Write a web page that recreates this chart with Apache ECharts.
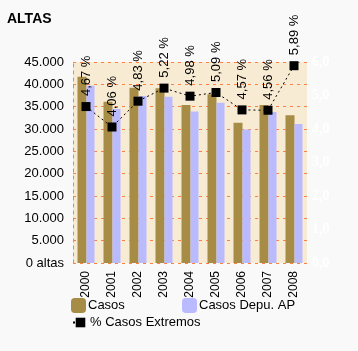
<!DOCTYPE html>
<html><head><meta charset="utf-8">
<script src="https://cdn.jsdelivr.net/npm/echarts@6/dist/echarts.min.js"></script>
<style>html,body{margin:0;padding:0;background:#f9f9f9}#c{width:358px;height:351px}</style>
</head><body><div id="c"></div>
<script>
const categories = ['2000','2001','2002','2003','2004','2005','2006','2007','2008'];
const casos = [41700, 36100, 39250, 39100, 35400, 37800, 31400, 35400, 33100];
const casosDepu = [39700, 34500, 37400, 37200, 33900, 35900, 29900, 33800, 31100];
const pctExtremos = [4.67, 4.06, 4.83, 5.22, 4.98, 5.09, 4.57, 4.56, 5.89];
const seriesNames = ['Casos', 'Casos Depu. AP', '% Casos Extremos'];

const NF = '"Liberation Sans Narrow","Liberation Sans",Arial,sans-serif';
const chart = echarts.init(document.getElementById('c'), null, {renderer: 'canvas'});
const fmtThousands = v => v === 0 ? '0 altas' : String(v).replace(/\B(?=(\d{3})+(?!\d))/g, '.');
chart.setOption({
  backgroundColor: '#f9f9f9',
  animation: false,
  title: {text: 'ALTAS', left: 7, top: 12, padding: 0,
    textStyle: {fontFamily: '"Liberation Sans",Arial,sans-serif', fontWeight: 'bold', fontSize: 14, color: '#000'}},
  grid: {left: 73, top: 62, width: 234, height: 201, show: true, backgroundColor: '#f8ebd4', borderWidth: 0},
  legend: [
    {data: [seriesNames[0]], left: 71, top: 298, padding: 0, itemWidth: 15, itemHeight: 15,
      textStyle: {fontFamily: NF, fontSize: 13, color: '#000', padding: [0,0,0,-3]}},
    {data: [seriesNames[1]], left: 182, top: 298, padding: 0, itemWidth: 15, itemHeight: 15,
      textStyle: {fontFamily: NF, fontSize: 13, color: '#000', padding: [0,0,0,-3]}},
    {data: [seriesNames[2]], left: 72, top: 316, padding: 0, itemWidth: 15, itemHeight: 12,
      textStyle: {fontFamily: NF, fontSize: 13, color: '#000', padding: [0,0,0,-3]}}
  ],
  xAxis: {type: 'category', data: categories,
    axisLine: {show: false}, axisTick: {show: false},
    axisLabel: {rotate: 90, margin: 8, fontFamily: NF, fontSize: 12, color: '#000'}},
  yAxis: [
    {type: 'value', min: 0, max: 45000, interval: 5000,
      axisLine: {show: true, lineStyle: {color: '#ff8040', type: [3,4]}},
      axisTick: {show: false},
      splitLine: {show: true, lineStyle: {color: '#ff8040', type: [3,4]}},
      axisLabel: {margin: 9, fontFamily: NF, fontSize: 13, color: '#000', formatter: fmtThousands}},
    {type: 'value', min: 0, max: 6, interval: 1, position: 'right',
      axisLine: {show: false}, axisTick: {show: false}, splitLine: {show: false},
      axisLabel: {margin: 5, fontFamily: '"Liberation Serif",serif', fontWeight: 'bold', fontSize: 14, color: '#ffffff',
        formatter: v => v.toFixed(1).replace('.', ',')}}
  ],
  series: [
    {name: seriesNames[0], type: 'bar', data: casos, barWidth: 9, barGap: '0%', itemStyle: {color: '#a68c44'}},
    {name: seriesNames[1], type: 'bar', data: casosDepu, barWidth: 8, barGap: '0%', itemStyle: {color: '#babaff'}},
    {name: seriesNames[2], type: 'line', yAxisIndex: 1, data: pctExtremos,
      symbol: 'rect', symbolSize: 9, itemStyle: {color: '#000'},
      lineStyle: {color: '#000', width: 1, type: [2,3]},
      label: {show: true, position: 'top', distance: 6, rotate: 90, align: 'left', verticalAlign: 'middle',
        fontFamily: NF, fontSize: 13, color: '#000',
        formatter: p => p.value.toFixed(2).replace('.', ',') + ' %'}}
  ]
});
</script></body></html>
